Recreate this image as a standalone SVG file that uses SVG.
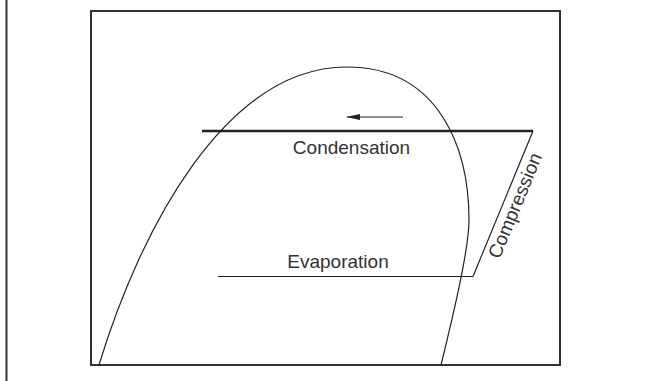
<svg xmlns="http://www.w3.org/2000/svg" width="645" height="381" viewBox="0 0 645 381">
<defs>
<style>
.frame{fill:none;stroke:#333;stroke-width:2}
.curve{fill:none;stroke:#222;stroke-width:1.2}
.thin{fill:none;stroke:#222;stroke-width:1.2}
.thick{fill:none;stroke:#222;stroke-width:2.6}
.lbl{font-family:"Liberation Sans",Arial,sans-serif;font-size:19px;fill:#333;text-anchor:middle}
</style>
<marker id="ah" markerWidth="14" markerHeight="8" refX="13" refY="4" orient="auto" markerUnits="userSpaceOnUse">
<path d="M0,1 L14,4 L0,7 Z" fill="#222"/>
</marker>
</defs>
<rect width="645" height="381" fill="#fff"/>
<line x1="6.5" y1="0" x2="6.5" y2="381" class="frame" stroke-width="1.6"/>
<rect x="91" y="11" width="469" height="354" class="frame"/>
<g id="saturation-curve">
<path class="curve" d="M99,365 C140,230 225,67 347,67 C440,67 469,150 469,220 C469,250 452,320 441,365"/>
</g>
<g id="connectors">
<line id="condensation-line" x1="202" y1="131" x2="533" y2="131" class="thick"/>
<line id="compression-line" x1="533" y1="131" x2="473" y2="276.5" class="thin"/>
<line id="evaporation-line" x1="218" y1="276.5" x2="473" y2="276.5" class="thin"/>
<line id="flow-arrow" x1="403" y1="117" x2="347" y2="117" class="thin" marker-end="url(#ah)"/>
</g>
<g id="condensation">
<text class="lbl" x="351.5" y="154">Condensation</text>
</g>
<g id="evaporation">
<text class="lbl" x="338" y="268">Evaporation</text>
</g>
<g id="compression">
<text class="lbl" x="521" y="208" transform="rotate(-67.5 521 208)">Compression</text>
</g>
</svg>
